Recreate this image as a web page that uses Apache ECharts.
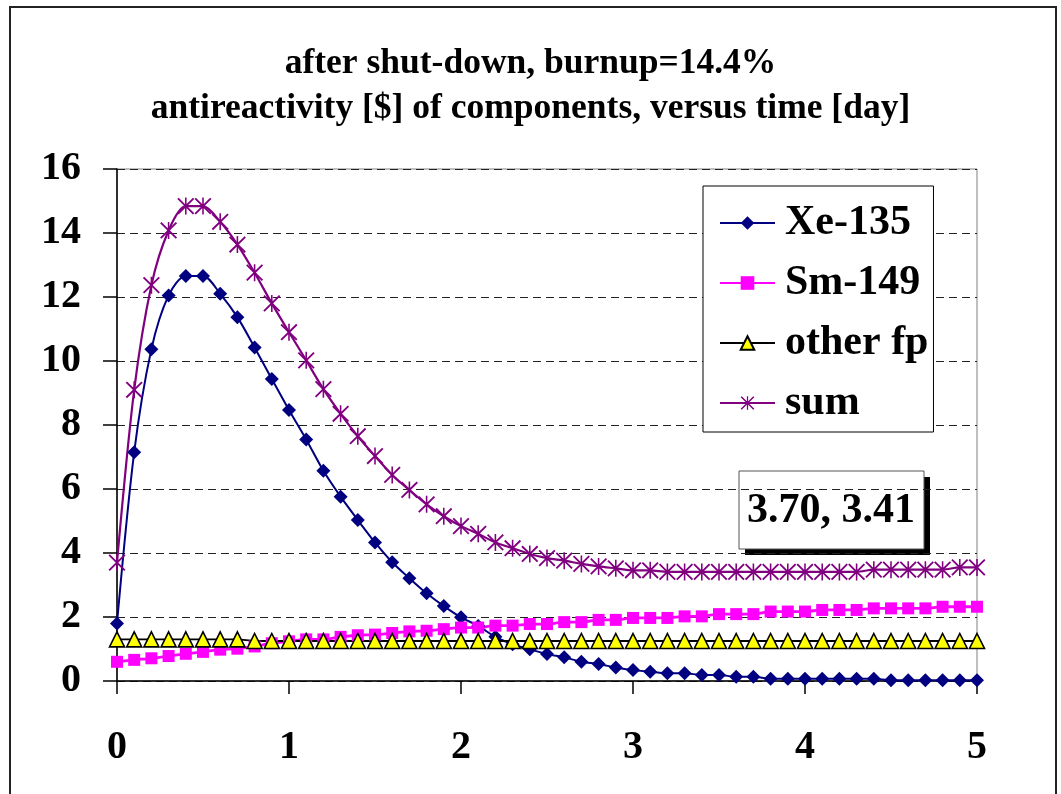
<!DOCTYPE html>
<html>
<head>
<meta charset="utf-8">
<script src="https://cdn.jsdelivr.net/npm/echarts@6/dist/echarts.min.js"></script>
<style>
  html, body { margin: 0; padding: 0; background: #fff; }
  #chart { width: 1061px; height: 794px; }
</style>
</head>
<body>
<div id="chart"></div>
<script>
// time after shut-down [day]
const times = [
  0.0, 0.1, 0.2, 0.3, 0.4, 0.5, 0.6, 0.7, 0.8, 0.9,
  1.0, 1.1, 1.2, 1.3, 1.4, 1.5, 1.6, 1.7, 1.8, 1.9,
  2.0, 2.1, 2.2, 2.3, 2.4, 2.5, 2.6, 2.7, 2.8, 2.9,
  3.0, 3.1, 3.2, 3.3, 3.4, 3.5, 3.6, 3.7, 3.8, 3.9,
  4.0, 4.1, 4.2, 4.3, 4.4, 4.5, 4.6, 4.7, 4.8, 4.9,
  5.0
];

// antireactivity [$] of each component
const xe135 = [
  1.80, 7.15, 10.37, 12.05, 12.66, 12.66, 12.10, 11.37, 10.42, 9.44,
  8.47, 7.55, 6.57, 5.76, 5.03, 4.33, 3.71, 3.21, 2.74, 2.34,
  1.99, 1.72, 1.38, 1.15, 0.99, 0.84, 0.74, 0.60, 0.53, 0.42,
  0.34, 0.29, 0.24, 0.24, 0.19, 0.19, 0.13, 0.13, 0.07, 0.07,
  0.07, 0.07, 0.07, 0.07, 0.07, 0.02, 0.02, 0.02, 0.02, 0.02,
  0.02
];
const sm149 = [
  0.60, 0.66, 0.71, 0.78, 0.85, 0.91, 0.98, 1.01, 1.08, 1.18,
  1.24, 1.30, 1.30, 1.38, 1.43, 1.45, 1.50, 1.55, 1.57, 1.62,
  1.67, 1.67, 1.73, 1.73, 1.78, 1.78, 1.84, 1.84, 1.91, 1.91,
  1.97, 1.97, 1.97, 2.02, 2.02, 2.09, 2.09, 2.09, 2.17, 2.17,
  2.17, 2.22, 2.22, 2.22, 2.27, 2.27, 2.27, 2.27, 2.32, 2.32,
  2.32
];
const otherFp = [
  1.30, 1.30, 1.30, 1.30, 1.30, 1.30, 1.30, 1.30, 1.25, 1.25,
  1.25, 1.25, 1.25, 1.25, 1.25, 1.25, 1.25, 1.25, 1.25, 1.25,
  1.25, 1.25, 1.25, 1.25, 1.25, 1.25, 1.25, 1.25, 1.25, 1.25,
  1.25, 1.25, 1.25, 1.25, 1.25, 1.25, 1.25, 1.25, 1.25, 1.25,
  1.25, 1.25, 1.25, 1.25, 1.25, 1.25, 1.25, 1.25, 1.25, 1.25,
  1.25
];
const sumTotal = [
  3.70, 9.10, 12.37, 14.08, 14.84, 14.84, 14.35, 13.64, 12.76, 11.80,
  10.90, 10.02, 9.12, 8.35, 7.65, 7.03, 6.44, 5.97, 5.52, 5.15,
  4.84, 4.60, 4.33, 4.15, 3.97, 3.84, 3.76, 3.66, 3.58, 3.52,
  3.46, 3.46, 3.41, 3.41, 3.41, 3.41, 3.41, 3.41, 3.41, 3.41,
  3.41, 3.41, 3.41, 3.41, 3.48, 3.48, 3.48, 3.48, 3.48, 3.55,
  3.55
];

const seriesNames = ['Xe-135', 'Sm-149', 'other fp', 'sum'];
const yTicks = { min: 0, max: 16, step: 2 };
const xTicks = { min: 0, max: 5, step: 1 };
const titleLines = [
  'after shut-down, burnup=14.4%',
  'antireactivity [$] of components, versus time [day]'
];

const SERIF = "'Liberation Serif', 'Times New Roman', serif";

// six-spoke asterisk marker (vertical bar + two diagonals)
const ASTERISK = 'path://' +
  'M10,0 L12,0 L12,22 L10,22 Z ' +
  'M1.85,0.15 L21.85,20.15 L20.15,21.85 L0.15,1.85 Z ' +
  'M21.85,1.85 L1.85,21.85 L0.15,20.15 L20.15,0.15 Z';

const pairs = vals => times.map((t, i) => [t, vals[i]]);

const chart = echarts.init(document.getElementById('chart'), null, { renderer: 'canvas' });

// value box: sum at t=0 and the minimum of the sum
const boxLabel = sumTotal[0].toFixed(2) + ', ' + Math.min(...sumTotal).toFixed(2);

chart.setOption({
  animation: false,
  backgroundColor: '#fff',
  title: {
    text: titleLines.join('\n'),
    left: 'center',
    top: 36,
    textStyle: {
      fontFamily: SERIF,
      fontWeight: 'bold',
      fontSize: 35.5,
      lineHeight: 45,
      color: '#000'
    }
  },
  grid: {
    left: 117, right: 84, top: 169, bottom: 113,
    show: true,
    borderColor: '#808080',
    borderWidth: 1,
    backgroundColor: 'transparent'
  },
  xAxis: {
    type: 'value',
    min: xTicks.min, max: xTicks.max, interval: xTicks.step,
    axisLine: { show: true, onZero: false, lineStyle: { color: '#000', width: 1.5 } },
    axisTick: { show: true, length: 13, lineStyle: { color: '#000', width: 1.5 } },
    axisLabel: {
      margin: 47,
      fontFamily: SERIF, fontWeight: 'bold', fontSize: 40, color: '#000'
    },
    splitLine: { show: false }
  },
  yAxis: {
    type: 'value',
    min: yTicks.min, max: yTicks.max, interval: yTicks.step,
    axisLine: { show: true, lineStyle: { color: '#000', width: 1.5 } },
    axisTick: { show: true, length: 14, lineStyle: { color: '#000', width: 1.5 } },
    axisLabel: {
      margin: 36,
      padding: [10, 0, 0, 0],
      fontFamily: SERIF, fontWeight: 'bold', fontSize: 40, color: '#000'
    },
    splitLine: { show: true, lineStyle: { color: '#222', width: 1, type: [8, 5] } }
  },
  legend: {
    orient: 'vertical',
    left: 703,
    top: 186,
    padding: [16, 5, 8, 16],
    itemWidth: 55,
    itemHeight: 17,
    itemGap: 18,
    backgroundColor: '#fff',
    borderColor: '#000',
    borderWidth: 1,
    textStyle: {
      fontFamily: SERIF, fontWeight: 'bold', fontSize: 42, color: '#000',
      padding: [0, 0, 0, 5]
    },
    data: seriesNames
  },
  series: [
    {
      name: seriesNames[0], type: 'line', data: pairs(xe135),
      smooth: 0.3, showAllSymbol: true,
      symbol: 'diamond', symbolSize: 14,
      itemStyle: { color: '#000080' },
      lineStyle: { color: '#000080', width: 2 }
    },
    {
      name: seriesNames[1], type: 'line', data: pairs(sm149),
      smooth: 0.3, showAllSymbol: true,
      symbol: 'rect', symbolSize: 12,
      itemStyle: { color: '#ff00ff' },
      lineStyle: { color: '#ff00ff', width: 2.8 }
    },
    {
      name: seriesNames[2], type: 'line', data: pairs(otherFp),
      smooth: 0.3, showAllSymbol: true,
      symbol: 'triangle', symbolSize: 15,
      itemStyle: { color: '#ffff00', borderColor: '#000', borderWidth: 1.6 },
      lineStyle: { color: '#000', width: 1.8 }
    },
    {
      name: seriesNames[3], type: 'line', data: pairs(sumTotal),
      smooth: 0.3, showAllSymbol: true,
      symbol: ASTERISK, symbolSize: 17,
      itemStyle: { color: '#800080' },
      lineStyle: { color: '#800080', width: 2.2 }
    }
  ],
  graphic: [
    {
      // outer frame
      type: 'rect', silent: true, z: 0,
      shape: { x: 10, y: 7, width: 1046, height: 800 },
      style: { fill: 'none', stroke: '#222', lineWidth: 2 }
    },
    {
      type: 'group', z: 100,
      children: [
        {
          type: 'rect',
          shape: { x: 745, y: 477, width: 185, height: 78 },
          style: { fill: '#000' }
        },
        {
          type: 'rect',
          shape: { x: 739, y: 471, width: 185, height: 78 },
          style: { fill: '#fff', stroke: '#555', lineWidth: 1 }
        },
        {
          type: 'text',
          x: 831, y: 511,
          style: {
            text: boxLabel,
            font: 'bold 42px ' + SERIF,
            fill: '#000',
            align: 'center',
            verticalAlign: 'middle'
          }
        }
      ]
    }
  ]
});
</script>
</body>
</html>
